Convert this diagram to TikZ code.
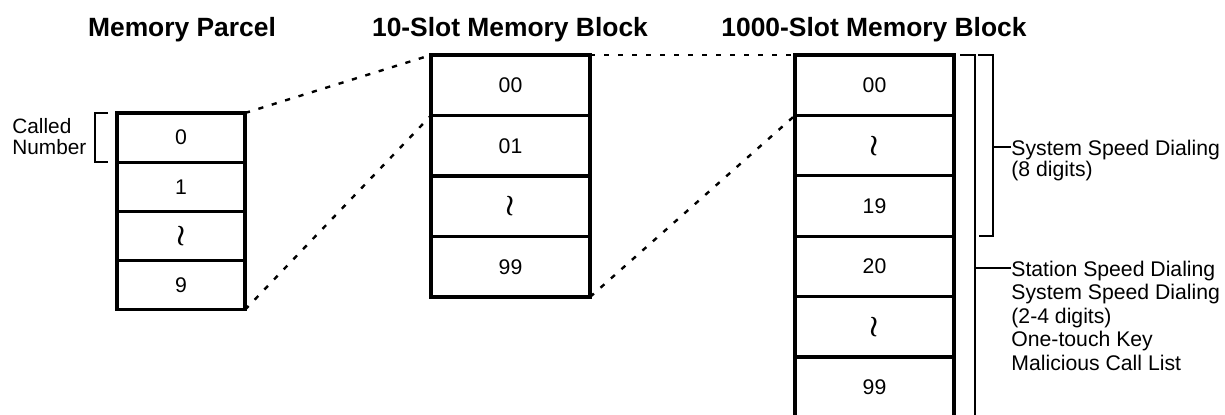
\documentclass[tikz,border=0pt]{standalone}
\usepackage{fontspec}
\setmainfont{Liberation Sans}
\newcommand{\wavy}{\scalebox{1.35}{\boldmath$\wr$}}
\begin{document}
\begin{tikzpicture}[x=0.5pt,y=-0.5pt,
  cell/.style={draw,line width=1.65pt,inner sep=0pt,outer sep=0pt,
    font=\fontsize{10.6}{12}\selectfont},
  pcell/.style={cell,minimum width=64pt,minimum height=24.6pt},
  acell/.style={cell,minimum width=79.5pt,minimum height=30.25pt},
  bcell/.style={cell,minimum width=79.5pt,minimum height=30.2pt},
  title/.style={font=\fontsize{13.2}{15}\selectfont\bfseries,anchor=base,inner sep=0pt},
  dotline/.style={line width=1.2pt,dash pattern=on 2.6pt off 4.4pt},
  brack/.style={line width=1pt},
  lbl/.style={inner sep=0pt,anchor=north west,align=left}
]
\useasboundingbox (0,0) rectangle (1225,414);
\clip (0,0) rectangle (1225,414);

% titles
\node[title] (t1) at (182,36) {Memory Parcel};
\node[title] (t2) at (510,36) {10-Slot Memory Block};
\node[title] (t3) at (874,36) {1000-Slot Memory Block};

% memory parcel
\node[pcell] (p0) at (181,137.6) {0};
\node[pcell] (p1) at (181,186.8) {1};
\node[pcell] (p2) at (181,236.0) {\wavy};
\node[pcell] (p3) at (181,285.2) {9};

% called number
\node[lbl,font=\fontsize{10.4}{10.5}\selectfont] (cn) at (12,118.5) {Called\\Number};
\draw[brack] (108,113) -- (95,113) -- (95,162) -- (108,162);

% 10-slot block
\node[acell] (a0) at (510.5,85.25) {00};
\node[acell] (a1) at (510.5,145.75) {01};
\node[acell] (a2) at (510.5,206.25) {\wavy};
\node[acell] (a3) at (510.5,266.75) {99};

% 1000-slot block
\node[bcell] (b0) at (874.5,85.2) {00};
\node[bcell] (b1) at (874.5,145.6) {\wavy};
\node[bcell] (b2) at (874.5,206.0) {19};
\node[bcell] (b3) at (874.5,266.4) {20};
\node[bcell] (b4) at (874.5,326.8) {\wavy};
\node[bcell] (b5) at (874.5,387.2) {99};

% dotted connectors
\draw[dotline] (p0.north east) -- (a0.north west);
\draw[dotline] (p3.south east) -- (a0.south west);
\draw[dotline] (a0.north east) -- (b0.north west);
\draw[dotline] (a3.south east) -- (b0.south west);

% brackets
\draw[brack] (960,55) -- (975,55) -- (975,420);
\draw[brack] (978,55) -- (993,55) -- (993,236) -- (979,236);
\coordinate (k1) at (993,147);
\coordinate (k2) at (975,268);
\node[lbl,font=\fontsize{10.6}{10.75}\selectfont] (s1) at (1011,139.5)
  {System Speed Dialing\\(8 digits)};
\node[lbl,font=\fontsize{10.6}{11.75}\selectfont] (s2) at (1011,260.5)
  {Station Speed Dialing\\System Speed Dialing\\(2-4 digits)\\One-touch Key\\Malicious Call List};
\draw[brack] (k1) -- (k1 -| s1.west);
\draw[brack] (k2) -- (k2 -| s2.west);
\end{tikzpicture}
\end{document}
